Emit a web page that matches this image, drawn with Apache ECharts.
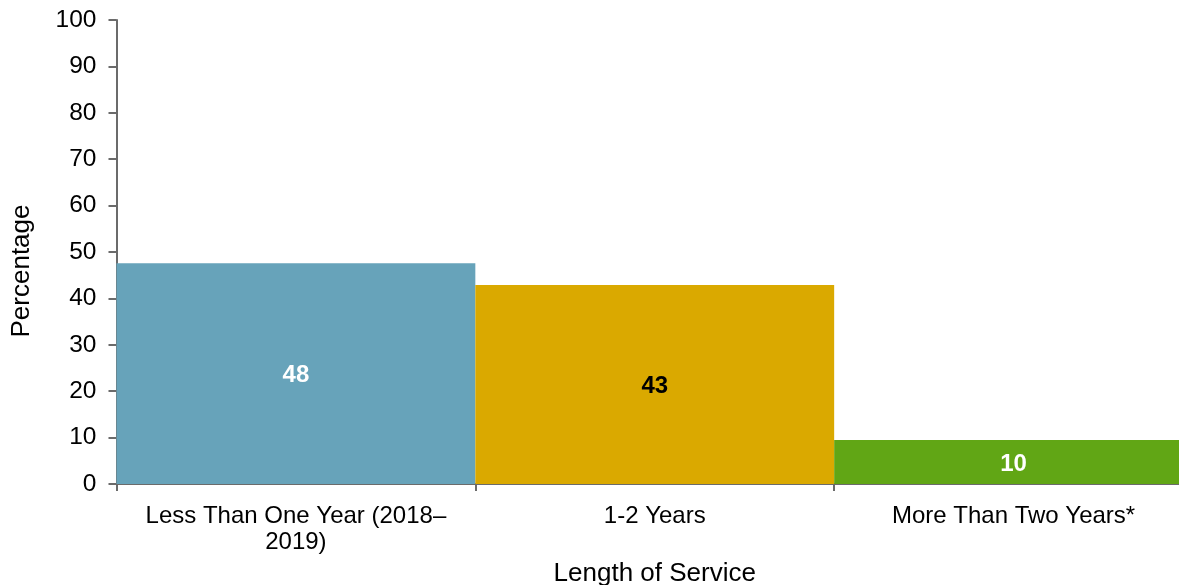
<!DOCTYPE html>
<html>
<head>
<meta charset="utf-8">
<script src="https://cdn.jsdelivr.net/npm/echarts@6/dist/echarts.min.js"></script>
<style>
  html, body { margin: 0; padding: 0; background: #fff; overflow: hidden; }
  #chart { width: 1179px; height: 585px; }
</style>
</head>
<body>
<div id="chart"></div>
<script>
// Share of respondents by length of service
const categories = ['Less Than One Year (2018–\n2019)', '1-2 Years', 'More Than Two Years*'];
const values = [47.6, 42.9, 9.5];
const barColors = ['#67A3BA', '#DAA900', '#61A615'];
const labelColors = ['#ffffff', '#000000', '#ffffff'];
const yTicks = [0, 10, 20, 30, 40, 50, 60, 70, 80, 90, 100];

const font = '"Liberation Sans", Arial, sans-serif';
const axisGrey = '#6b6b6b';

const chart = echarts.init(document.getElementById('chart'), null, { renderer: 'canvas' });

chart.setOption({
  animation: false,
  backgroundColor: '#ffffff',
  // the plot area runs slightly past the right edge of the canvas
  grid: {
    left: 116.5, top: 20, width: 1076.5, bottom: 101,
    containLabel: false, outerBoundsMode: 'none'
  },
  xAxis: {
    type: 'category',
    data: categories,
    name: 'Length of Service',
    nameLocation: 'middle',
    nameGap: 77,
    nameTextStyle: { fontFamily: font, fontSize: 26, color: '#000' },
    axisLine: { lineStyle: { color: axisGrey, width: 2 } },
    axisTick: { show: true, length: 7, lineStyle: { color: axisGrey, width: 2 } },
    axisLabel: {
      fontFamily: font, fontSize: 24, color: '#000',
      margin: 19, lineHeight: 26, interval: 0
    }
  },
  yAxis: {
    type: 'value',
    min: yTicks[0],
    max: yTicks[yTicks.length - 1],
    interval: yTicks[1] - yTicks[0],
    name: 'Percentage',
    nameLocation: 'middle',
    nameGap: 82,
    nameTextStyle: { fontFamily: font, fontSize: 26, color: '#000', padding: [0, 38, 0, 0] },
    axisLine: { show: true, lineStyle: { color: axisGrey, width: 2 } },
    axisTick: { show: true, length: 8, lineStyle: { color: axisGrey, width: 2 } },
    splitLine: { show: false },
    axisLabel: { fontFamily: font, fontSize: 24.5, color: '#000', margin: 20 }
  },
  series: [{
    type: 'bar',
    barCategoryGap: 0,
    data: values.map((v, i) => ({
      value: v,
      itemStyle: { color: barColors[i] },
      label: { color: labelColors[i] }
    })),
    label: {
      show: true,
      position: 'inside',
      offset: [0, 2],
      fontFamily: font,
      fontSize: 24,
      fontWeight: 'bold',
      formatter: p => Math.round(p.value)
    }
  }]
});
</script>
</body>
</html>
